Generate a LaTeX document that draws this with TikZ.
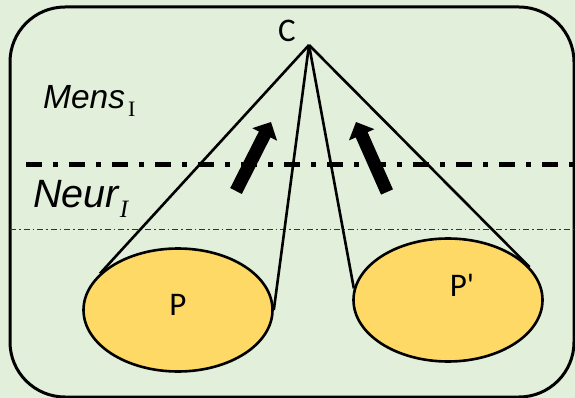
\documentclass[tikz,border=0pt]{standalone}
\usepackage{fontspec}
\usetikzlibrary{shapes.geometric,arrows.meta}
\newfontfamily\calibrifont{Carlito}
\newfontfamily\arialfont{Liberation Sans}
\newfontfamily\timesfont{Liberation Serif}
\definecolor{bggreen}{HTML}{E2EFDA}
\definecolor{pgold}{HTML}{FFD966}

\begin{document}
\begin{tikzpicture}[x=1pt,y=-1pt,
    frame/.style={draw=black, line width=3pt, rounded corners=55pt},
    percept/.style={ellipse, draw=black, fill=pgold, line width=2.6pt,
      minimum width=189pt, minimum height=123pt, inner sep=0pt},
    letter/.style={font=\fontsize{33}{40}\calibrifont, inner sep=0pt},
    level/.style={anchor=base west, inner sep=0pt},
    cone/.style={line width=2.6pt},
    lift/.style={line width=13pt, -{Triangle[length=14pt,width=27pt]}},
    mindline/.style={line width=5pt, dash pattern=on 16pt off 11pt on 5pt off 11pt},
    neurline/.style={line width=1pt, black!80, dash pattern=on 6pt off 3pt on 1.5pt off 3pt}
  ]
  \fill[bggreen] (0,0) rectangle (575,398);
  \useasboundingbox (0,0) rectangle (575,398);
  \draw[frame] (10,7) rectangle (574,397);

  % levels
  \draw[mindline] (26,165) -- (575,165);
  \draw[neurline] (10,229) -- (575,229);
  \node[level] (mens) at (43,109) {\fontsize{33.5}{40}\arialfont\itshape Mens\hspace{3pt}\raisebox{-8pt}{\fontsize{22}{26}\timesfont\upshape I}};
  \node[level] (neur) at (33,207) {\fontsize{39.5}{46}\arialfont\itshape Neur\hspace{1pt}\raisebox{-10pt}{\fontsize{25}{30}\timesfont\itshape I}};

  % percepts
  \node[percept] (P) at (178,310) {};
  \node[percept] (Pp) at (448,300) {};
  \node[letter] (Plbl) at (178,305) {P};
  \node[letter] (Pplbl) at (462,285) {P'};

  % cones up to C
  \coordinate (apex) at (309,45);
  \node[letter] (Clbl) at (287,31) {C};
  \draw[cone] (apex) -- (P.155);
  \draw[cone] (apex) -- (P.east);
  \draw[cone] (apex) -- (Pp.173);
  \draw[cone] (apex) -- (Pp.22);

  % upward arrows
  \coordinate (l0) at (236,191);
  \coordinate (l1) at (271,122);
  \coordinate (r0) at (387,192);
  \coordinate (r1) at (356,122);
  \draw[lift] (l0) -- (l1);
  \draw[lift] (r0) -- (r1);
\end{tikzpicture}
\end{document}
